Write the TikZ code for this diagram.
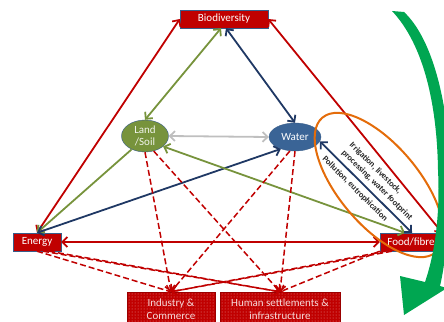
\documentclass[tikz,border=0pt]{standalone}
\usepackage{fontspec}
\setmainfont{Carlito}
\usetikzlibrary{arrows.meta,shapes.geometric,patterns}
\definecolor{boxred}{HTML}{C00000}
\definecolor{rimblue}{HTML}{385D8A}
\definecolor{soilgreen}{HTML}{77933C}
\definecolor{waterblue}{HTML}{3A6496}
\definecolor{navy}{HTML}{1F3864}
\definecolor{linkgrey}{HTML}{BFBFBF}
\definecolor{nexusorange}{HTML}{E46C0A}
\definecolor{cyclegreen}{HTML}{00A651}

\begin{document}
\begin{tikzpicture}[x=1pt,y=-1pt,>={Straight Barb[length=5pt,width=10pt]},
  box/.style={rectangle,draw=rimblue,fill=boxred,text=white,minimum height=18pt,inner sep=0pt,font=\fontsize{11}{12}\selectfont},
  blob/.style={ellipse,draw=rimblue,inner sep=0pt,align=center,font=\fontsize{11}{12}\selectfont},
  sector/.style={rectangle,draw=boxred!80!black,preaction={fill=boxred},pattern=dots,pattern color=white!55!boxred,text=white!85!boxred,minimum height=34pt,inner sep=0pt,align=center,font=\fontsize{11}{13}\selectfont},
  link/.style={line width=1.8pt},
  impact/.style={->,line width=1.5pt,boxred,dash pattern=on 6pt off 3pt},
  note/.style={sloped,align=left,inner sep=4.5pt,text=black!85,font=\fontsize{8.5}{11}\selectfont\bfseries}]
  \useasboundingbox (0,0) rectangle (444,321);
  \clip (0,0) rectangle (444,321);
  \node (bio) at (224,19) [box,minimum width=88pt] {Biodiversity};
  \node (land) at (145,136) [blob,fill=soilgreen,text=white!90!soilgreen,minimum width=47pt,minimum height=32pt] {Land\\/Soil};
  \node (water) at (295,137) [blob,fill=waterblue,text=white,minimum width=52pt,minimum height=28pt] {Water};
  \node (energy) at (37,242) [box,minimum width=48pt] {Energy};
  \node (food) at (411,242) [box,minimum width=62pt] {Food/fibre};
  \node (ind) at (171,309) [sector,minimum width=88pt] {Industry \&\\Commerce};
  \node (hum) at (280,309) [sector,minimum width=120pt] {Human settlements \&\\infrastructure};
  \draw [<->,link,boxred] (energy.north) -- (bio.west);
  \draw [<->,link,boxred] (bio.east) -- (food.north east);
  \draw [<->,link,boxred] (energy.east) -- (food.west);
  \draw [<->,link,soilgreen] (land.north) -- ([xshift=-3pt]bio.south);
  \draw [<->,link,navy] ([xshift=2pt]bio.south) -- (water.north);
  \draw [<->,link,linkgrey] (land.east) -- (water.west);
  \draw [->,link,soilgreen] (land.225) -- (energy.north);
  \draw [<->,link,navy] (energy.north) -- (water.220);
  \draw [<->,link,soilgreen] (land.330) -- ([xshift=-6pt]food.north);
  \draw [<->,link,navy] (water.350) -- node [note,above,pos=0.55] {Irrigation, livestock,\\processing, water footprint} node [note,below,pos=0.45] {Pollution, eutrophication} ([xshift=1pt]food.north);
  \draw [impact] (land.south) -- (ind.north);
  \draw [impact] (land.300) -- (hum.north);
  \draw [impact] (water.250) -- (ind.north);
  \draw [impact] (water.south) -- (hum.north);
  \draw [impact] (energy.south) -- (ind.north);
  \draw [impact] ([xshift=6pt]energy.south) -- (hum.north);
  \draw [impact] ([xshift=12pt]energy.south) -- (hum.north);
  \draw [impact] (food.south west) -- (hum.north);
  \draw [impact] ([xshift=6pt]food.south west) -- (ind.north);
  \draw [impact] ([xshift=12pt]food.south west) -- (ind.north);
  \draw [nexusorange,line width=2pt,rotate around={-50:(379,185)}] (379,185) ellipse (88 and 40);
  \fill [cyclegreen] (392,11) -- (404,12) .. controls (434,40) and (450,110) .. (450,180) .. controls (449,230) and (445,265) .. (440,286) -- (447,288) -- (404,315) -- (400,276) -- (425,282) .. controls (436,250) and (440,210) .. (438,170) .. controls (437,105) and (424,45) .. (392,11) -- cycle;
\end{tikzpicture}
\end{document}
